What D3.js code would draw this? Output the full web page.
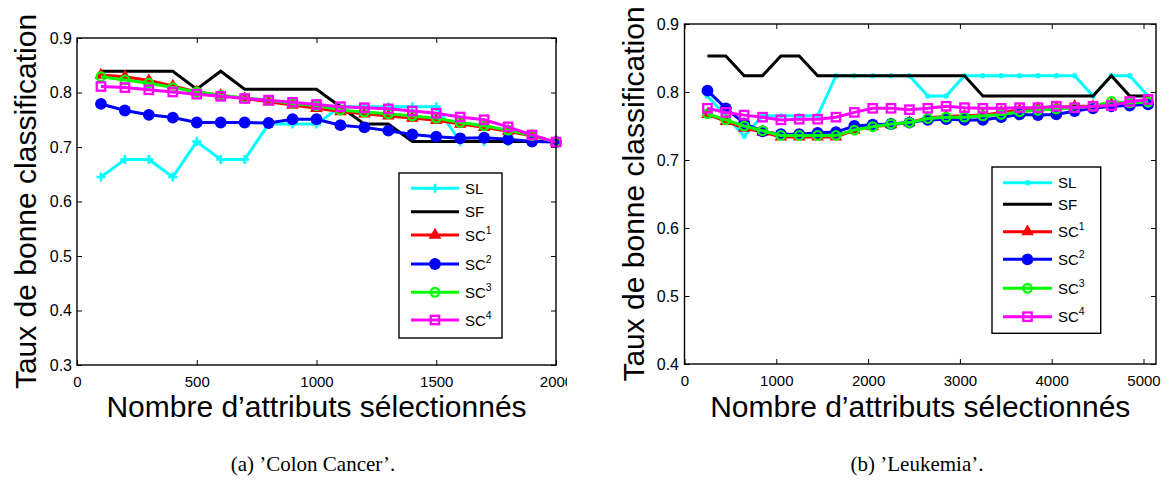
<!DOCTYPE html>
<html>
<head>
<meta charset="utf-8">
<script src="https://cdn.jsdelivr.net/npm/d3@7"></script>
<style>
  body { margin: 0; background: #fff; }
  svg { display: block; }
</style>
</head>
<body>
<svg id="fig" width="1167" height="486"></svg>
<script>
// ---- Colon Cancer: accuracy vs. number of selected features ----
const colonX = [100, 200, 300, 400, 500, 600, 700, 800, 900, 1000,
                1100, 1200, 1300, 1400, 1500, 1600, 1700, 1800, 1900, 2000];
const colonSL  = [0.645, 0.677, 0.677, 0.645, 0.710, 0.677, 0.677, 0.742, 0.742, 0.742,
                  0.774, 0.774, 0.774, 0.774, 0.774, 0.710, 0.710, 0.710, 0.710, 0.710];
const colonSF  = [0.839, 0.839, 0.839, 0.839, 0.806, 0.839, 0.806, 0.806, 0.806, 0.806,
                  0.774, 0.742, 0.742, 0.710, 0.710, 0.710, 0.710, 0.710, 0.710, 0.710];
const colonSC1 = [0.832, 0.829, 0.822, 0.812, 0.801, 0.795, 0.789, 0.783, 0.777, 0.771,
                  0.765, 0.761, 0.757, 0.753, 0.749, 0.742, 0.736, 0.729, 0.720, 0.709];
const colonSC2 = [0.779, 0.767, 0.759, 0.754, 0.745, 0.745, 0.745, 0.744, 0.751, 0.751,
                  0.740, 0.736, 0.730, 0.723, 0.719, 0.716, 0.717, 0.714, 0.710, 0.709];
const colonSC3 = [0.829, 0.823, 0.817, 0.809, 0.801, 0.795, 0.790, 0.786, 0.780, 0.776,
                  0.768, 0.764, 0.761, 0.757, 0.753, 0.745, 0.739, 0.731, 0.721, 0.709];
const colonSC4 = [0.811, 0.809, 0.805, 0.801, 0.797, 0.793, 0.789, 0.786, 0.782, 0.778,
                  0.774, 0.772, 0.770, 0.766, 0.762, 0.755, 0.750, 0.737, 0.722, 0.709];
const colonXTicks = [0, 500, 1000, 1500, 2000];
const colonYTicks = [0.3, 0.4, 0.5, 0.6, 0.7, 0.8, 0.9];

// ---- Leukemia ----
const leukX = [250, 450, 650, 850, 1050, 1250, 1450, 1650, 1850, 2050, 2250, 2450, 2650,
               2850, 3050, 3250, 3450, 3650, 3850, 4050, 4250, 4450, 4650, 4850, 5050];
const leukSL  = [0.794, 0.765, 0.735, 0.765, 0.765, 0.765, 0.765, 0.824, 0.824, 0.824, 0.824, 0.824, 0.794,
                 0.794, 0.824, 0.824, 0.824, 0.824, 0.824, 0.824, 0.824, 0.794, 0.824, 0.824, 0.794];
const leukSF  = [0.853, 0.853, 0.824, 0.824, 0.853, 0.853, 0.824, 0.824, 0.824, 0.824, 0.824, 0.824, 0.824,
                 0.824, 0.824, 0.794, 0.794, 0.794, 0.794, 0.794, 0.794, 0.794, 0.824, 0.794, 0.794];
const leukSC1 = [0.767, 0.757, 0.747, 0.741, 0.734, 0.734, 0.734, 0.734, 0.744, 0.749, 0.752, 0.755, 0.762,
                 0.764, 0.765, 0.766, 0.770, 0.773, 0.776, 0.777, 0.779, 0.779, 0.782, 0.785, 0.787];
const leukSC2 = [0.802, 0.776, 0.754, 0.742, 0.738, 0.738, 0.740, 0.741, 0.750, 0.752, 0.753, 0.755, 0.759,
                 0.760, 0.759, 0.759, 0.763, 0.767, 0.766, 0.767, 0.772, 0.776, 0.779, 0.780, 0.782];
const leukSC3 = [0.768, 0.759, 0.750, 0.743, 0.736, 0.736, 0.736, 0.736, 0.744, 0.749, 0.753, 0.755, 0.761,
                 0.763, 0.763, 0.765, 0.767, 0.771, 0.773, 0.775, 0.777, 0.779, 0.786, 0.784, 0.785];
const leukSC4 = [0.776, 0.770, 0.766, 0.763, 0.759, 0.760, 0.760, 0.763, 0.770, 0.776, 0.776, 0.774, 0.776,
                 0.779, 0.777, 0.776, 0.776, 0.777, 0.777, 0.779, 0.777, 0.779, 0.780, 0.786, 0.789];
const leukXTicks = [0, 1000, 2000, 3000, 4000, 5000];
const leukYTicks = [0.4, 0.5, 0.6, 0.7, 0.8, 0.9];

const seriesBase = ["SL", "SF", "SC", "SC", "SC", "SC"];
const seriesSup  = ["", "", "1", "2", "3", "4"];
const yTitle = "Taux de bonne classification";
const xTitle = "Nombre d’attributs sélectionnés";

const SANS = "'Liberation Sans', Arial, sans-serif";
const SERIF = "'Liberation Serif', 'Times New Roman', serif";

const svg = d3.select("#fig");
svg.append("rect").attr("width", 1167).attr("height", 486).attr("fill", "#fff");

// Marker painters (MATLAB-like styles)
function drawMarker(g, kind, color) {
  if (kind === "plus") {
    g.append("path").attr("d", "M-4.5,0H4.5M0,-4.5V4.5")
      .attr("stroke", color).attr("stroke-width", 2.6).attr("fill", "none");
  } else if (kind === "dot") {
    g.append("circle").attr("r", 2.6).attr("fill", color);
  } else if (kind === "triangle") {
    g.append("path").attr("d", d3.symbol(d3.symbolTriangle, 48)())
      .attr("fill", color).attr("stroke", color).attr("stroke-width", 1.2);
  } else if (kind === "disc") {
    g.append("circle").attr("r", 5.9).attr("fill", color);
  } else if (kind === "ring") {
    g.append("circle").attr("r", 4.3).attr("fill", "none")
      .attr("stroke", color).attr("stroke-width", 2.3);
  } else if (kind === "square") {
    g.append("rect").attr("x", -4.2).attr("y", -4.2).attr("width", 8.4).attr("height", 8.4)
      .attr("fill", "none").attr("stroke", color).attr("stroke-width", 2.3);
  }
}

function drawPanel(cfg) {
  const root = svg.append("g");
  if (cfg.clipRight) {
    const id = "clip-" + cfg.id;
    svg.append("defs").append("clipPath").attr("id", id)
      .append("rect").attr("x", cfg.clipLeft).attr("y", 0)
      .attr("width", cfg.clipRight - cfg.clipLeft).attr("height", 486);
    root.attr("clip-path", `url(#${id})`);
  }

  const x = d3.scaleLinear().domain(cfg.xDomain).range([cfg.left, cfg.right]);
  const y = d3.scaleLinear().domain(cfg.yDomain).range([cfg.bottom, cfg.top]);

  // axes with inward ticks on all four sides
  const styleAxis = (sel, fs) => {
    sel.select(".domain").remove();
    sel.selectAll(".tick line").attr("stroke", "#000").attr("stroke-width", 1);
    sel.selectAll("text").attr("font-family", SANS).attr("font-size", fs).attr("fill", "#000");
  };
  root.append("g").attr("transform", `translate(0,${cfg.bottom})`)
    .call(d3.axisBottom(x).tickValues(cfg.xTicks).tickFormat(d3.format("d"))
      .tickSizeInner(-5).tickSizeOuter(0).tickPadding(11))
    .call(s => styleAxis(s, 15));
  root.append("g").attr("transform", `translate(0,${cfg.top})`)
    .call(d3.axisTop(x).tickValues(cfg.xTicks).tickFormat("")
      .tickSizeInner(-5).tickSizeOuter(0))
    .call(s => styleAxis(s, 15));
  root.append("g").attr("transform", `translate(${cfg.left},0)`)
    .call(d3.axisLeft(y).tickValues(cfg.yTicks).tickFormat(d3.format(".1f"))
      .tickSizeInner(-5).tickSizeOuter(0).tickPadding(cfg.yPad))
    .call(s => styleAxis(s, 16));
  root.append("g").attr("transform", `translate(${cfg.right},0)`)
    .call(d3.axisRight(y).tickValues(cfg.yTicks).tickFormat("")
      .tickSizeInner(-5).tickSizeOuter(0))
    .call(s => styleAxis(s, 16));

  // data series
  const line = d3.line().x(d => x(d[0])).y(d => y(d[1]));
  cfg.series.forEach(s => {
    const pts = cfg.xs.map((v, i) => [v, s.values[i]]);
    root.append("path").datum(pts).attr("d", line)
      .attr("fill", "none").attr("stroke", s.color).attr("stroke-width", 3)
      .attr("stroke-linejoin", "miter");
    if (s.marker) {
      pts.forEach(p => {
        const mg = root.append("g").attr("transform", `translate(${x(p[0])},${y(p[1])})`);
        drawMarker(mg, s.marker, s.color);
      });
    }
  });

  // frame
  root.append("rect")
    .attr("x", cfg.left).attr("y", cfg.top)
    .attr("width", cfg.right - cfg.left).attr("height", cfg.bottom - cfg.top)
    .attr("fill", "none").attr("stroke", "#000").attr("stroke-width", 1.4);

  // legend
  const L = cfg.legend;
  root.append("rect").attr("x", L.x).attr("y", L.y).attr("width", L.w).attr("height", L.h)
    .attr("fill", "#fff").attr("stroke", "#000").attr("stroke-width", 1.4);
  cfg.series.forEach((s, i) => {
    const ry = L.y + L.rows[i];
    root.append("line").attr("x1", L.lx0).attr("x2", L.lx1).attr("y1", ry).attr("y2", ry)
      .attr("stroke", s.color).attr("stroke-width", 3);
    if (s.legendMarker) {
      const mg = root.append("g").attr("transform", `translate(${(L.lx0 + L.lx1) / 2},${ry})`);
      drawMarker(mg, s.legendMarker, s.color);
    }
    const t = root.append("text").attr("x", L.tx).attr("y", ry + 5.5)
      .attr("font-family", SANS).attr("font-size", 15).attr("fill", "#000");
    t.append("tspan").text(seriesBase[i]);
    if (seriesSup[i]) {
      t.append("tspan").attr("dy", -7).attr("font-size", 10.5).text(seriesSup[i]);
    }
  });

  // axis titles
  root.append("text")
    .attr("transform", `translate(${cfg.yTitleX},${(cfg.top + cfg.bottom) / 2}) rotate(-90)`)
    .attr("text-anchor", "middle").attr("font-family", SANS).attr("font-size", 30)
    .attr("fill", "#000").text(yTitle);
  root.append("text")
    .attr("x", (cfg.left + cfg.right) / 2).attr("y", 417)
    .attr("text-anchor", "middle").attr("font-family", SANS).attr("font-size", 30)
    .attr("fill", "#000").text(xTitle);

  // caption
  svg.append("text").attr("x", cfg.captionX).attr("y", 471)
    .attr("text-anchor", "middle").attr("font-family", SERIF).attr("font-size", 21)
    .attr("fill", "#000").text(cfg.caption);
}

const colors = ["#00ffff", "#000000", "#ff0000", "#0000ff", "#00ff00", "#ff00ff"];

drawPanel({
  id: "colon",
  left: 77, right: 556, top: 38, bottom: 365,
  clipLeft: 0, clipRight: 567,
  xDomain: [0, 2000], yDomain: [0.3, 0.9],
  xTicks: colonXTicks, yTicks: colonYTicks, yPad: 5,
  xs: colonX,
  series: [
    { values: colonSL,  color: colors[0], marker: "plus",     legendMarker: "plus" },
    { values: colonSF,  color: colors[1], marker: null,       legendMarker: null },
    { values: colonSC1, color: colors[2], marker: "triangle", legendMarker: "triangle" },
    { values: colonSC2, color: colors[3], marker: "disc",     legendMarker: "disc" },
    { values: colonSC3, color: colors[4], marker: "ring",     legendMarker: "ring" },
    { values: colonSC4, color: colors[5], marker: "square",   legendMarker: "square" }
  ],
  legend: { x: 399, y: 173, w: 103, h: 165, lx0: 411, lx1: 459, tx: 465,
            rows: [15.3, 38.7, 62, 91, 119.3, 147] },
  yTitleX: 36,
  caption: "(a) ’Colon Cancer’.", captionX: 313
});

drawPanel({
  id: "leuk",
  left: 684.5, right: 1156, top: 24, bottom: 364,
  xDomain: [0, 5136], yDomain: [0.4, 0.9],
  xTicks: leukXTicks, yTicks: leukYTicks, yPad: 5.5,
  xs: leukX,
  series: [
    { values: leukSL,  color: colors[0], marker: "dot",      legendMarker: "dot" },
    { values: leukSF,  color: colors[1], marker: null,       legendMarker: null },
    { values: leukSC1, color: colors[2], marker: "triangle", legendMarker: "triangle" },
    { values: leukSC2, color: colors[3], marker: "disc",     legendMarker: "disc" },
    { values: leukSC3, color: colors[4], marker: "ring",     legendMarker: "ring" },
    { values: leukSC4, color: colors[5], marker: "square",   legendMarker: "square" }
  ],
  legend: { x: 992, y: 167, w: 108.7, h: 166.3, lx0: 1003, lx1: 1052, tx: 1058,
            rows: [15.7, 37.3, 64.7, 92.3, 121.3, 149.7] },
  yTitleX: 644,
  caption: "(b) ’Leukemia’.", captionX: 917
});
</script>
</body>
</html>
